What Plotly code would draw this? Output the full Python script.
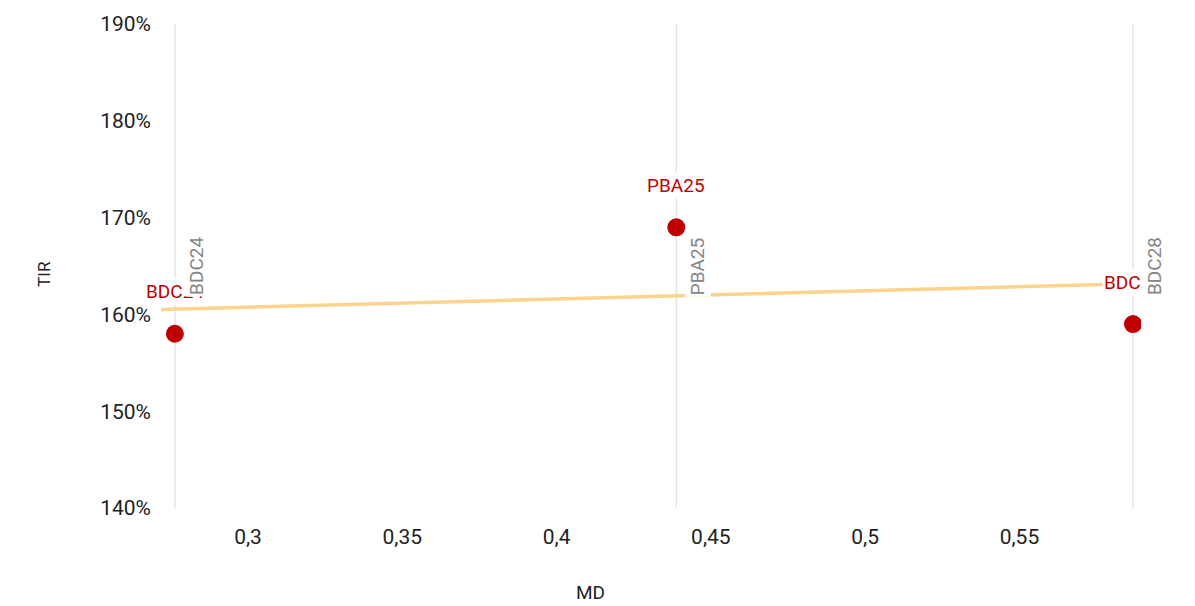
import plotly.graph_objects as go

# Data
bonds = ["BDC24", "PBA25", "BDC28"]
md = [0.2763, 0.4388, 0.5868]
tir = [1.58, 1.69, 1.59]

# Trend line (at the ends of the x range)
trend_md = [0.2718, 0.5894]
trend_tir = [1.605, 1.632]

x_ticks = [0.3, 0.35, 0.4, 0.45, 0.5, 0.55]
y_ticks = [1.4, 1.5, 1.6, 1.7, 1.8, 1.9]

RED = "#c00000"
GRAY = "#858585"
FONT = "Roboto"

fig = go.Figure()

# vertical reference lines at each bond
for xv in md:
    fig.add_shape(type="line", xref="x", yref="y domain", x0=xv, x1=xv, y0=0, y1=1,
                  line=dict(color="#dedede", width=1.2), layer="below")

fig.add_trace(go.Scatter(x=trend_md, y=trend_tir, mode="lines",
                         line=dict(color="#fbd38d", width=3.5), hoverinfo="skip",
                         showlegend=False))

fig.add_trace(go.Scatter(x=md, y=tir, mode="markers",
                         marker=dict(color=RED, size=18), showlegend=False))

# red labels above points
for b, xv, yv in zip(bonds, md, tir):
    fig.add_annotation(x=xv, y=yv, text=b, showarrow=False, yshift=42,
                       font=dict(family=FONT, size=19, color=RED),
                       bgcolor="white", borderpad=1)

# gray rotated labels on the vertical lines
for b, xv in zip(bonds, md):
    fig.add_annotation(x=xv, y=1.65, text=b, showarrow=False, textangle=-90,
                       xshift=21, font=dict(family=FONT, size=19, color=GRAY),
                       bgcolor="white", borderpad=1)

# axis titles
fig.add_annotation(xref="paper", yref="paper", x=0.438, y=-0.1756, text="MD",
                   xanchor="center", yanchor="middle",
                   showarrow=False, font=dict(family=FONT, size=19, color="#222222"))
fig.add_annotation(xref="paper", yref="paper", x=-0.1195, y=0.4835, text="TIR",
                   xanchor="center", yanchor="middle",
                   textangle=-90, showarrow=False,
                   font=dict(family=FONT, size=17, color="#222222"))

fig.update_layout(
    width=1195, height=606,
    margin=dict(l=161, r=54, t=24, b=98, autoexpand=False),
    paper_bgcolor="white", plot_bgcolor="white",
    separators=", ",
    font=dict(family=FONT, size=21, color="#222222"),
    showlegend=False,
    xaxis=dict(range=[trend_md[0], trend_md[1]], tickvals=x_ticks,
               showgrid=False, zeroline=False, showline=False,
               ticklabelstandoff=14, automargin=False),
    yaxis=dict(range=[1.4, 1.9], tickvals=y_ticks, tickformat=".0%",
               showgrid=False, zeroline=False, showline=False,
               ticklabelstandoff=9, automargin=False),
)

fig.write_html("out.html", config={"displayModeBar": False},
               post_script="document.body.style.margin='0';document.body.style.overflow='hidden';")
